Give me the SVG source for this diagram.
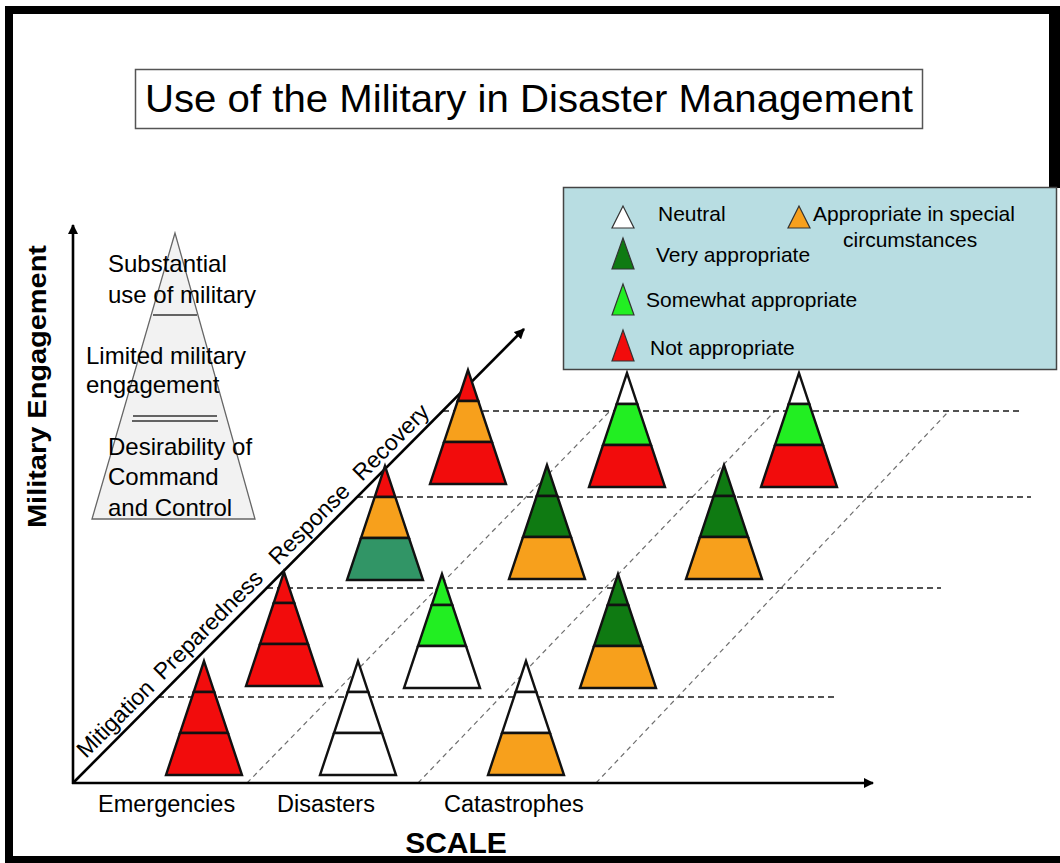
<svg xmlns="http://www.w3.org/2000/svg" xmlns:xlink="http://www.w3.org/1999/xlink" width="1060" height="863" viewBox="0 0 1060 863">
<style>
text{font-family:"Liberation Sans",Arial,sans-serif;fill:#000}
.r{fill:#f20c0c}.o{fill:#f7a01c}.dg{fill:#0f7a12}.lg{fill:#22ee22}.w{fill:#ffffff}.tl{fill:#319566}
.band{stroke:#111;stroke-width:2.4;stroke-linejoin:miter}
.lt{stroke:#333;stroke-width:1.3}
.hd{stroke:#1a1a1a;stroke-width:1.3;stroke-dasharray:6 4;fill:none}
.sd{stroke:#6e6e6e;stroke-width:1.2;stroke-dasharray:5 4;fill:none}
.ax{stroke:#000;stroke-width:2.6;fill:none}
.pt{font-size:24px}
.lgd{font-size:21px}
.cat{font-size:23.5px}
.dia{font-size:23px}
</style>
<defs>
<marker id="ah" viewBox="0 0 10 10" refX="9" refY="5" markerWidth="4" markerHeight="4" orient="auto" markerUnits="strokeWidth">
<path d="M0,0 L10,5 L0,10 z" fill="#000"/>
</marker>
<polygon id="b1" class="band" points="0,0 -10.3,31 10.3,31"/>
<polygon id="b2" class="band" points="-10.3,31 10.3,31 24,72 -24,72"/>
<polygon id="b3" class="band" points="-24,72 24,72 38,114 -38,114"/>
</defs>
<rect x="0" y="0" width="1060" height="863" fill="#fff"/>
<g id="frame" fill="#000">
<rect x="5" y="6" width="1055" height="8"/>
<rect x="5" y="6" width="8" height="857"/>
<rect x="5" y="856" width="1055" height="7"/>
<rect x="1049" y="6" width="11" height="182"/>
</g>
<g id="title">
<rect x="135.5" y="69.5" width="787" height="59" fill="#fff" stroke="#555" stroke-width="1.5"/>
<text x="529" y="112" font-size="39.5" text-anchor="middle" textLength="768" lengthAdjust="spacingAndGlyphs">Use of the Military in Disaster Management</text>
</g>
<g id="gridlines">
<line class="sd" x1="247" y1="783" x2="610" y2="411"/>
<line class="sd" x1="418" y1="783" x2="775" y2="411"/>
<line class="sd" x1="596" y1="783" x2="949" y2="411"/>
<line class="hd" x1="443" y1="411" x2="1019" y2="411"/>
<line class="hd" x1="357" y1="497" x2="1031" y2="497"/>
<line class="hd" x1="267" y1="588" x2="941" y2="588"/>
<line class="hd" x1="158" y1="697" x2="836" y2="697"/>
</g>
<g id="pyramid">
<polygon points="175,233 92,519 255,519" fill="#f2f2f2" stroke="#666" stroke-width="1.3"/>
<line class="lt" x1="153" y1="315" x2="197" y2="315"/>
<line class="lt" x1="133" y1="416" x2="217" y2="416"/>
<line class="lt" x1="132" y1="421" x2="218" y2="421"/>
<text class="pt" x="108" y="272">Substantial</text>
<text class="pt" x="108" y="303">use of military</text>
<text class="pt" x="86" y="364">Limited military</text>
<text class="pt" x="86" y="393">engagement</text>
<text class="pt" x="108" y="455">Desirability of</text>
<text class="pt" x="108" y="485">Command</text>
<text class="pt" x="108" y="516">and Control</text>
</g>
<g id="axes">
<line class="ax" x1="73" y1="784" x2="73" y2="225" marker-end="url(#ah)"/>
<line class="ax" x1="72" y1="783" x2="873" y2="783" marker-end="url(#ah)"/>
<line class="ax" x1="73" y1="783" x2="524" y2="329" marker-end="url(#ah)"/>
</g>
<g id="axis-labels">
<text x="46" y="386.5" font-size="26" font-weight="bold" text-anchor="middle" textLength="283" lengthAdjust="spacingAndGlyphs" transform="rotate(-90 46 386.5)">Military Engagement</text>
<text x="456" y="853" font-size="30" font-weight="bold" text-anchor="middle">SCALE</text>
<text class="cat" x="98" y="812">Emergencies</text>
<text class="cat" x="277" y="812">Disasters</text>
<text class="cat" x="444" y="812">Catastrophes</text>
<text class="dia" transform="translate(86,759) rotate(-45)">Mitigation</text>
<text class="dia" transform="translate(163,681) rotate(-45)">Preparedness</text>
<text class="dia" transform="translate(278,566) rotate(-45)">Response</text>
<text class="dia" transform="translate(362,482) rotate(-45)">Recovery</text>
</g>
<g id="tri-emerg-mit" transform="translate(204,661)"><use xlink:href="#b1" class="r"/><use xlink:href="#b2" class="r"/><use xlink:href="#b3" class="r"/></g>
<g id="tri-dis-mit" transform="translate(358,661)"><use xlink:href="#b1" class="w"/><use xlink:href="#b2" class="w"/><use xlink:href="#b3" class="w"/></g>
<g id="tri-cat-mit" transform="translate(526,661)"><use xlink:href="#b1" class="w"/><use xlink:href="#b2" class="w"/><use xlink:href="#b3" class="o"/></g>
<g id="tri-emerg-prep" transform="translate(284,572)"><use xlink:href="#b1" class="r"/><use xlink:href="#b2" class="r"/><use xlink:href="#b3" class="r"/></g>
<g id="tri-dis-prep" transform="translate(442,574)"><use xlink:href="#b1" class="lg"/><use xlink:href="#b2" class="lg"/><use xlink:href="#b3" class="w"/></g>
<g id="tri-cat-prep" transform="translate(618,574)"><use xlink:href="#b1" class="dg"/><use xlink:href="#b2" class="dg"/><use xlink:href="#b3" class="o"/></g>
<g id="tri-emerg-resp" transform="translate(385,466)"><use xlink:href="#b1" class="r"/><use xlink:href="#b2" class="o"/><use xlink:href="#b3" class="tl"/></g>
<g id="tri-dis-resp" transform="translate(547,465)"><use xlink:href="#b1" class="dg"/><use xlink:href="#b2" class="dg"/><use xlink:href="#b3" class="o"/></g>
<g id="tri-cat-resp" transform="translate(724,465)"><use xlink:href="#b1" class="dg"/><use xlink:href="#b2" class="dg"/><use xlink:href="#b3" class="o"/></g>
<g id="tri-emerg-rec" transform="translate(468,370)"><use xlink:href="#b1" class="r"/><use xlink:href="#b2" class="o"/><use xlink:href="#b3" class="r"/></g>
<g id="tri-dis-rec" transform="translate(627,373)"><use xlink:href="#b1" class="w"/><use xlink:href="#b2" class="lg"/><use xlink:href="#b3" class="r"/></g>
<g id="tri-cat-rec" transform="translate(799,373)"><use xlink:href="#b1" class="w"/><use xlink:href="#b2" class="lg"/><use xlink:href="#b3" class="r"/></g>
<g id="legend">
<rect x="563.5" y="187.5" width="493" height="182" fill="#b8dde2" stroke="#444" stroke-width="1.5"/>
<polygon points="623,206 612,228 634,228" class="w" stroke="#333" stroke-width="1.2"/>
<polygon points="799,206 788,228 810,228" class="o" stroke="#333" stroke-width="1.2"/>
<polygon points="623,238 612,269 634,269" class="dg" stroke="#333" stroke-width="1.2"/>
<polygon points="623,284 612,315 634,315" class="lg" stroke="#333" stroke-width="1.2"/>
<polygon points="623,330 612,361 634,361" class="r" stroke="#333" stroke-width="1.2"/>
<text class="lgd" x="658" y="221">Neutral</text>
<text class="lgd" x="813" y="221">Appropriate in special</text>
<text class="lgd" x="843" y="247">circumstances</text>
<text class="lgd" x="656" y="262">Very appropriate</text>
<text class="lgd" x="646" y="307">Somewhat appropriate</text>
<text class="lgd" x="650" y="355">Not appropriate</text>
</g>
</svg>
